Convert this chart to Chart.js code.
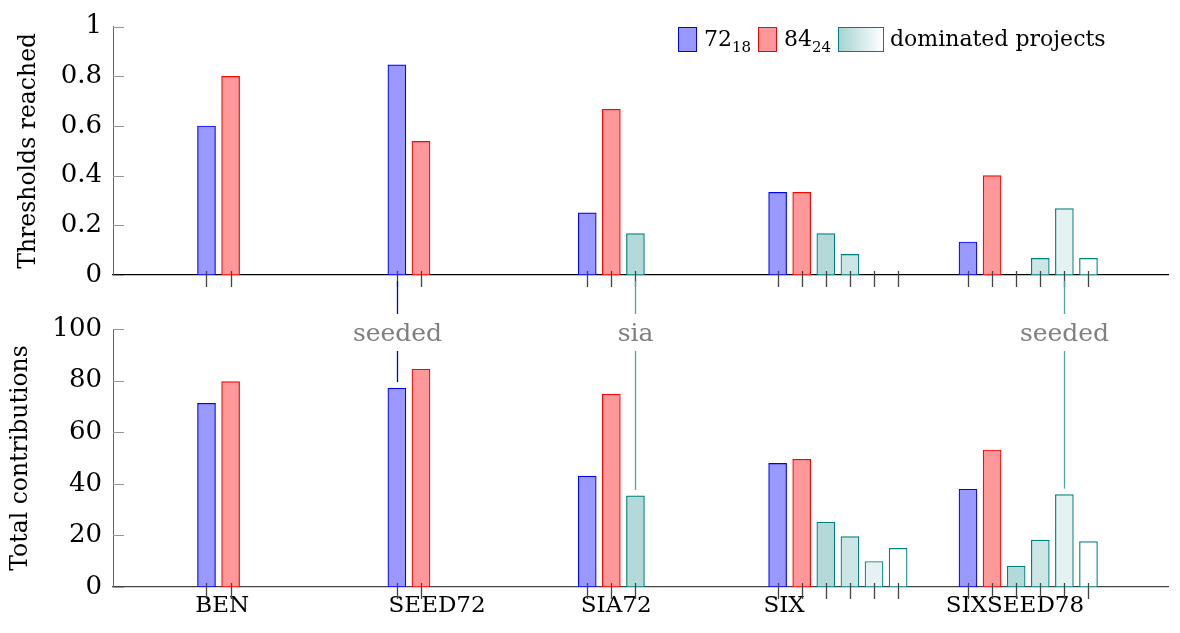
<!DOCTYPE html>
<html><head><meta charset="utf-8">
<script src="https://cdn.jsdelivr.net/npm/chart.js@4.4.1/dist/chart.umd.min.js"></script>
<style>
html,body{margin:0;padding:0;background:#fff;}
#wrap{position:relative;width:1180px;height:633px;overflow:hidden;background:#fff;}
canvas{position:absolute;left:0;top:0;}
#legend{position:absolute;left:0;top:0;font-family:'DejaVu Serif',serif;font-size:22px;color:#000;}
.lb{position:absolute;top:27px;height:25px;box-sizing:border-box;border:1.3px solid;}
.lt{position:absolute;top:25px;line-height:28px;white-space:nowrap;}
.lt sub{font-size:15px;vertical-align:-6px;line-height:0;}
</style></head>
<body><div id="wrap">
<canvas id="topc" width="1180" height="633"></canvas>
<canvas id="botc" width="1180" height="633"></canvas>
<div id="legend">
  <div class="lb" style="left:678px;width:19px;background:#9999ff;border-color:#0000ff;"></div>
  <div class="lt" style="left:704px;">72<sub>18</sub></div>
  <div class="lb" style="left:758px;width:19px;background:#ff9999;border-color:#ff0000;"></div>
  <div class="lt" style="left:784px;">84<sub>24</sub></div>
  <div class="lb" style="left:838px;width:46px;background:linear-gradient(to right,#a8d3d3,#ffffff);border-color:#008080;"></div>
  <div class="lt" style="left:890px;">dominated projects</div>
</div>
</div>
<script>
// ---- data ----
const categories = ['BEN', 'SEED72', 'SIA72', 'SIX', 'SIXSEED78'];
const seriesNames = ['72_18', '84_24', 'dominated 1', 'dominated 2', 'dominated 3', 'dominated 4'];

const thr72_18 = [0.6, 0.846, 0.25, 0.333, 0.133];
const thr84_24 = [0.8, 0.538, 0.667, 0.333, 0.4];
const thrDom1  = [null, null, 0.167, 0.167, 0];
const thrDom2  = [null, null, null, 0.083, 0.067];
const thrDom3  = [null, null, null, 0, 0.267];
const thrDom4  = [null, null, null, 0, 0.067];

const tot72_18 = [71.2, 77.1, 43.0, 47.9, 37.9];
const tot84_24 = [79.6, 84.4, 74.8, 49.5, 53.1];
const totDom1  = [null, null, 35.3, 25.1, 8.1];
const totDom2  = [null, null, null, 19.5, 18.2];
const totDom3  = [null, null, null, 9.9, 35.8];
const totDom4  = [null, null, null, 15.0, 17.6];

const thrTicks = [0, 0.2, 0.4, 0.6, 0.8, 1];
const totTicks = [0, 20, 40, 60, 80, 100];

const annotations = [
  {text: 'seeded', group: 1, series: 0, color: '#0000ff'},
  {text: 'sia', group: 2, series: 2, color: '#4da6a6'},
  {text: 'seeded', group: 4, series: 4, color: '#4da6a6'}
];

// ---- layout ----
const GROUP_STEP = 7.9;
const XMIN = -3.88, XMAX = 39.9;
const LABEL_SHIFT = [0.65, 1.67, 1.2, 0.27, 1.95];
const pos = (g, s) => g * GROUP_STEP + s;

const styles = [
  {bg: '#9999ff', bd: '#0000ff'},
  {bg: '#ff9999', bd: '#ff0000'},
  {bg: '#b3d9d9', bd: '#008080'},
  {bg: '#cce6e6', bd: '#008080'},
  {bg: '#e6f2f2', bd: '#008080'},
  {bg: '#ffffff', bd: '#008080'}
];

function points(arr, s) {
  return arr.map((v, g) => v == null ? null : {x: pos(g, s), y: v}).filter(p => p);
}
function makeDatasets(arrs) {
  return arrs.map((arr, s) => ({
    label: seriesNames[s], data: points(arr, s),
    backgroundColor: styles[s].bg, borderColor: styles[s].bd,
    borderWidth: 1.2, borderSkipped: false, barThickness: 18, grouped: false
  }));
}

Chart.defaults.font.family = "'DejaVu Serif', serif";
Chart.defaults.color = '#000';

const tickMarks = {
  id: 'tickMarks',
  afterDatasetsDraw(chart) {
    const {ctx, chartArea, scales: {x, y}} = chart;
    ctx.save();
    ctx.strokeStyle = '#444'; ctx.lineWidth = 1.3;
    chart.data.datasets.forEach(ds => ds.data.forEach(p => {
      const px = Math.round(x.getPixelForValue(p.x)) + 0.5;
      ctx.beginPath(); ctx.moveTo(px, chartArea.bottom - 4); ctx.lineTo(px, chartArea.bottom + 12); ctx.stroke();
    }));
    ctx.strokeStyle = '#999'; ctx.lineWidth = 1;
    y.ticks.forEach(t => {
      const py = Math.round(y.getPixelForValue(t.value)) + 0.5;
      ctx.beginPath(); ctx.moveTo(chartArea.left, py); ctx.lineTo(chartArea.left + 11, py); ctx.stroke();
    });
    ctx.restore();
  }
};

function yScale(max, ticksArr, title, titlePad) {
  return {
    min: 0, max: max,
    afterBuildTicks(s) { s.ticks = ticksArr.map(v => ({value: v})); },
    ticks: {color: '#000', font: {size: 26}, padding: 11, callback: v => String(v)},
    grid: {display: false, drawTicks: false},
    border: {color: '#666', width: 1},
    title: {display: true, text: title, color: '#000', font: {size: 23.5}, padding: {top: titlePad, bottom: 0}},
    afterFit(s) { s.width = 113; }
  };
}

const topChart = new Chart(document.getElementById('topc'), {
  type: 'bar',
  data: {datasets: makeDatasets([thr72_18, thr84_24, thrDom1, thrDom2, thrDom3, thrDom4])},
  options: {
    responsive: false, animation: false, devicePixelRatio: 1,
    layout: {padding: {top: 17, right: 12, left: 0, bottom: 0}},
    plugins: {legend: {display: false}, tooltip: {enabled: false}},
    scales: {
      x: {type: 'linear', offset: false, min: XMIN, max: XMAX, grid: {display: false, drawTicks: false, offset: false},
          border: {display: true, color: '#000', width: 1.3}, ticks: {display: false},
          afterFit(s) { s.height = 633 - 275; }},
      y: yScale(1, thrTicks, 'Thresholds reached', 15)
    }
  },
  plugins: [tickMarks]
});

const totSeries = [tot72_18, tot84_24, totDom1, totDom2, totDom3, totDom4];

const annotate = {
  id: 'annotate',
  afterDraw(chart) {
    const {ctx, chartArea, scales: {x, y}} = chart;
    const topBottom = topChart.chartArea.bottom;
    const labelY = chartArea.top + 5;
    ctx.save();
    annotations.forEach(a => {
      const px = Math.round(x.getPixelForValue(pos(a.group, a.series))) + 0.5;
      const barTop = y.getPixelForValue(totSeries[a.series][a.group]);
      ctx.strokeStyle = a.color; ctx.lineWidth = 1.3;
      ctx.beginPath(); ctx.moveTo(px, topBottom + 6); ctx.lineTo(px, labelY - 20); ctx.stroke();
      ctx.beginPath(); ctx.moveTo(px, labelY + 17); ctx.lineTo(px, barTop - 6); ctx.stroke();
      ctx.fillStyle = '#808080';
      ctx.font = "25px 'DejaVu Serif', serif";
      ctx.textAlign = 'center'; ctx.textBaseline = 'middle';
      ctx.fillText(a.text, px, labelY);
    });
    ctx.restore();
  }
};

new Chart(document.getElementById('botc'), {
  type: 'bar',
  data: {datasets: makeDatasets(totSeries)},
  options: {
    responsive: false, animation: false, devicePixelRatio: 1,
    layout: {padding: {top: 329, right: 12, left: 0, bottom: 0}},
    plugins: {legend: {display: false}, tooltip: {enabled: false}},
    scales: {
      x: {type: 'linear', offset: false, min: XMIN, max: XMAX, grid: {display: false, drawTicks: false, offset: false},
          border: {display: true, color: '#444', width: 1.3},
          afterBuildTicks(s) { s.ticks = categories.map((c, g) => ({value: pos(g, LABEL_SHIFT[g])})); },
          ticks: {autoSkip: false, maxRotation: 0, minRotation: 0, padding: 5, color: '#000', font: {size: 23},
                  callback: (v, i) => categories[i]},
          afterFit(s) { s.height = 633 - 587; }},
      y: yScale(100, totTicks, 'Total contributions', 7)
    }
  },
  plugins: [tickMarks, annotate]
});
</script>
</body></html>
